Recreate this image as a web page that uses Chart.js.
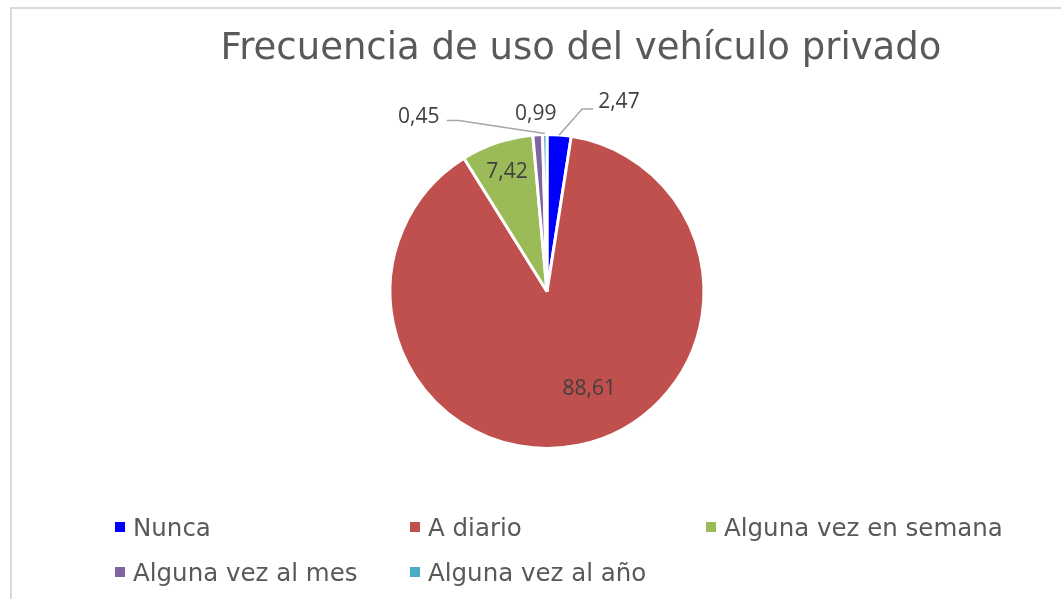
<!DOCTYPE html>
<html lang="es">
<head>
    <meta charset="UTF-8">
    <title>Frecuencia de uso del vehículo privado</title>
    <script src="https://cdn.jsdelivr.net/npm/chart.js"></script>
    <style>
        html, body {
            margin: 0;
            width: 1061px;
            height: 599px;
            overflow: hidden;
            background: #fff;
            font-family: "DejaVu Sans", sans-serif;
        }
        .frame {
            position: absolute;
            left: 10px;
            top: 7px;
            width: 1100px;
            height: 650px;
            border: 2px solid #d9d9d9;
        }
        #chart {
            position: absolute;
            left: 0;
            top: 0;
        }
        .title {
            position: absolute;
            left: 0;
            width: 1162px;
            top: 25px;
            text-align: center;
            font-size: 37px;
            line-height: 44px;
            color: #595959;
        }
        .legend {
            position: absolute;
            left: 115px;
            top: 515px;
            display: grid;
            grid-template-columns: 295px 296px 320px;
            grid-auto-rows: 45px;
        }
        .legend-item {
            display: flex;
            align-items: center;
            height: 24px;
            font-size: 24.5px;
            color: #595959;
            white-space: nowrap;
        }
        .legend-box {
            width: 10px;
            height: 10px;
            margin-right: 8px;
        }
    </style>
</head>
<body>
    <div class="frame"></div>
    <canvas id="chart" width="1061" height="599"></canvas>
    <div class="title">Frecuencia de uso del vehículo privado</div>
    <div class="legend" id="legend"></div>

    <script>
        // datos
        const categories = ['Nunca', 'A diario', 'Alguna vez en semana', 'Alguna vez al mes', 'Alguna vez al año'];
        const values = [2.47, 88.61, 7.42, 0.99, 0.45];
        const colors = ['#0000ff', '#c0504d', '#9bbb59', '#8064a2', '#4bacc6'];

        // colocación de etiquetas (relativa al punto del arco en el ángulo medio)
        const labelPlacement = [
            { r: 1, dx: 39, dy: -33, align: 'left', leader: [[0, 0], [23, -26], [34, -26]] },
            { r: 0.68, dx: 21, dy: -7 },
            { r: 0.8, dx: 0, dy: 0 },
            { r: 1, dx: -2, dy: -21 },
            { r: 1, dx: -126, dy: -18, leader: [[0, -1], [-86, -14], [-98, -14]] }
        ];

        // leyenda en rejilla como en Excel
        const legendEl = document.getElementById('legend');
        categories.forEach((c, i) => {
            const item = document.createElement('div');
            item.className = 'legend-item';
            item.innerHTML = `<span class="legend-box" style="background:${colors[i]}"></span>${c}`;
            legendEl.appendChild(item);
        });

        const dataLabels = {
            id: 'dataLabels',
            afterDatasetsDraw(chart) {
                const ctx = chart.ctx;
                const meta = chart.getDatasetMeta(0);
                ctx.save();
                ctx.font = '21px "Open Sans"';
                ctx.fillStyle = '#404040';
                ctx.textBaseline = 'middle';
                meta.data.forEach((arc, i) => {
                    const p = arc.getProps(['x', 'y', 'startAngle', 'endAngle', 'outerRadius'], true);
                    const mid = (p.startAngle + p.endAngle) / 2;
                    const pl = labelPlacement[i];
                    const bx = p.x + Math.cos(mid) * p.outerRadius * pl.r;
                    const by = p.y + Math.sin(mid) * p.outerRadius * pl.r;

                    if (pl.leader) {
                        ctx.strokeStyle = '#a6a6a6';
                        ctx.lineWidth = 1.5;
                        ctx.beginPath();
                        pl.leader.forEach((pt, k) => {
                            if (k === 0) ctx.moveTo(bx + pt[0], by + pt[1]);
                            else ctx.lineTo(bx + pt[0], by + pt[1]);
                        });
                        ctx.stroke();
                    }

                    ctx.textAlign = pl.align || 'center';
                    const txt = values[i].toFixed(2).replace('.', ',');
                    ctx.fillText(txt, bx + pl.dx, by + pl.dy);
                });
                ctx.restore();
            }
        };

        const ctx = document.getElementById('chart').getContext('2d');
        new Chart(ctx, {
            type: 'pie',
            data: {
                labels: categories,
                datasets: [{
                    data: values,
                    backgroundColor: colors,
                    borderColor: '#ffffff',
                    borderWidth: 3,
                    hoverOffset: 0
                }]
            },
            options: {
                responsive: false,
                animation: false,
                layout: {
                    padding: { left: 200, right: 167, top: 133, bottom: 149 }
                },
                plugins: {
                    legend: { display: false },
                    tooltip: { enabled: false }
                }
            },
            plugins: [dataLabels]
        });
    </script>
</body>
</html>
